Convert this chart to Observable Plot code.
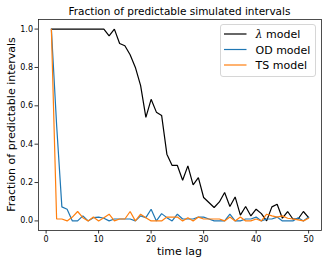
<!DOCTYPE html>
<html>
<head>
<meta charset="utf-8">
<script src="https://cdn.jsdelivr.net/npm/d3@7"></script>
<script src="https://cdn.jsdelivr.net/npm/@observablehq/plot@0.6"></script>
<style>
  html, body { margin: 0; padding: 0; background: #fff; }
  #chart { position: relative; width: 327px; height: 263px; }
</style>
</head>
<body>
<div id="chart"></div>
<script>
const timeLag = d3.range(1, 51);
const lambdaModel = [1,1,1,1,1,1,1,1,1,1,1,0.965,1,0.925,0.913,0.866,0.80,0.705,0.54,0.634,0.567,0.55,0.348,0.289,0.289,0.212,0.287,0.188,0.226,0.122,0.096,0.07,0.099,0.148,0.075,0.125,0.03,0.075,0.026,0.061,0.038,0,0.073,0.087,0.014,0.049,0.01,0.01,0.049,0.017];
const odModel = [1,0.5,0.073,0.061,0,0,0.026,0,0.017,0.02,0.014,0,0.01,0.01,0.01,0.01,0,0.026,0.017,0.061,0,0.038,0.017,0,0.035,0.01,0.01,0.01,0.02,0.02,0.01,0,0,0,0.035,0,0,0.01,0.01,0.02,0,0.01,0.01,0.02,0,0,0,0.017,0,0.02];
const tsModel = [1,0.01,0.01,0,0.02,0.049,0.017,0,0.02,0,0.017,0.035,0,0.01,0.01,0.049,0,0.035,0.017,0,0,0,0.02,0.02,0.02,0,0.017,0,0.02,0.01,0.01,0.01,0.01,0,0.02,0,0.02,0,0,0.01,0,0.035,0.026,0.02,0.026,0.014,0.01,0.005,0,0.014];
const seriesNames = ["λ model", "OD model", "TS model"];
const seriesColors = ["#000000", "#1f77b4", "#ff7f0e"];
const xTicks = [0, 10, 20, 30, 40, 50];
const yTicks = [0, 0.2, 0.4, 0.6, 0.8, 1.0];
const title = "Fraction of predictable simulated intervals";
const xLabel = "time lag";
const yLabel = "Fraction of predictable intervals";

const seriesValues = [lambdaModel, odModel, tsModel];
const rows = [];
seriesNames.forEach((name, si) => {
  timeLag.forEach((t, i) => rows.push({series: name, t, v: seriesValues[si][i]}));
});

const W = 327, H = 263;
const mL = 38, mR = 6, mT = 19, mB = 33;

const chart = Plot.plot({
  width: W,
  height: H,
  marginLeft: mL,
  marginRight: mR,
  marginTop: mT,
  marginBottom: mB,
  style: {fontFamily: "DejaVu Sans", background: "#fff", overflow: "visible"},
  x: {domain: [-1.45, 52.45]},
  y: {domain: [-0.05, 1.05]},
  color: {domain: seriesNames, range: seriesColors},
  marks: [
    Plot.axisX({ticks: xTicks, tickSize: 3.5, tickPadding: 2, fontSize: 8, label: null, stroke: "#000", fill: "#000", strokeWidth: 0.8}),
    Plot.axisY({ticks: yTicks, tickSize: 3.5, tickPadding: 2, fontSize: 8, label: null, tickFormat: d3.format(".1f"), stroke: "#000", fill: "#000", strokeWidth: 0.8}),
    Plot.line(rows, {x: "t", y: "v", z: "series", stroke: "series", strokeWidth: 1.2, strokeLinejoin: "miter"}),
    Plot.frame({stroke: "#222", strokeWidth: 0.8})
  ]
});

const svg = d3.select(chart);
const cx = (mL + (W - mR)) / 2;
svg.append("text").attr("x", cx).attr("y", 14.5).attr("text-anchor", "middle")
  .attr("font-family", "DejaVu Sans").attr("font-size", 10.5).attr("fill", "#000").text(title);
svg.append("text").attr("x", cx).attr("y", 254.5).attr("text-anchor", "middle")
  .attr("font-family", "DejaVu Sans").attr("font-size", 11).attr("fill", "#000").text(xLabel);
svg.append("text").attr("transform", `translate(14.5,${(mT + H - mB) / 2}) rotate(-90)`).attr("text-anchor", "middle")
  .attr("font-family", "DejaVu Sans").attr("font-size", 11).attr("fill", "#000").text(yLabel);

// legend
const lg = svg.append("g");
lg.append("rect").attr("x", 220.5).attr("y", 24.5).attr("width", 95).attr("height", 52).attr("rx", 2.5)
  .attr("fill", "#fff").attr("fill-opacity", 0.8).attr("stroke", "#cccccc").attr("stroke-width", 0.8);
const rowY = [34, 49.5, 65];
seriesNames.forEach((name, i) => {
  lg.append("line").attr("x1", 224).attr("x2", 246.5).attr("y1", rowY[i]).attr("y2", rowY[i])
    .attr("stroke", seriesColors[i]).attr("stroke-width", 1.2);
  const t = lg.append("text").attr("x", 255.5).attr("y", rowY[i] + 4).attr("font-family", "DejaVu Sans")
    .attr("text-anchor", "start").attr("font-size", 11).attr("fill", "#000");
  if (name.startsWith("λ")) {
    t.append("tspan").attr("font-style", "italic").attr("font-family", "DejaVu Serif").text("λ");
    t.append("tspan").text(name.slice(1));
  } else {
    t.text(name);
  }
});

document.getElementById("chart").appendChild(chart);
</script>
</body>
</html>
